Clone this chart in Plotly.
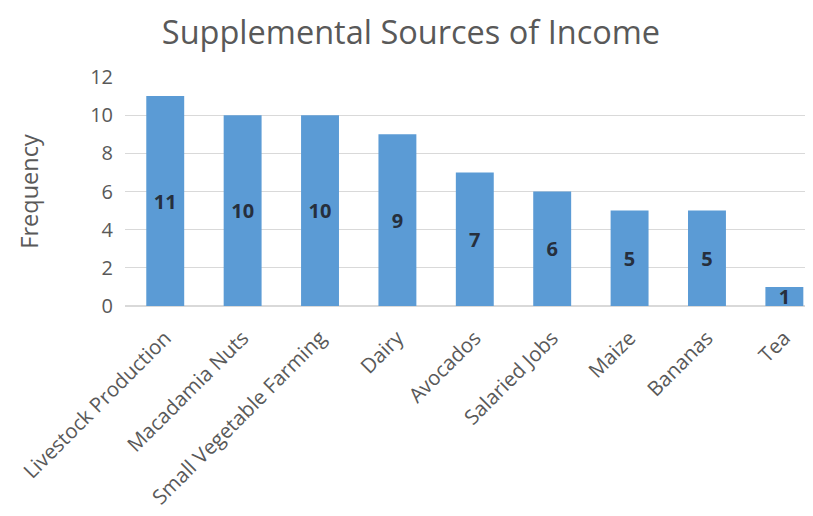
import plotly.graph_objects as go

categories = ["Livestock Production", "Macadamia Nuts", "Small Vegetable Farming", "Dairy",
              "Avocados", "Salaried Jobs", "Maize", "Bananas", "Tea"]
values = [11, 10, 10, 9, 7, 6, 5, 5, 1]
y_ticks = [0, 2, 4, 6, 8, 10, 12]

FONT = "Open Sans"
GREY = "#595959"

fig = go.Figure(go.Bar(
    x=categories, y=values,
    marker=dict(color="#5b9bd5", line=dict(width=0)),
    width=0.49,
    text=[str(v) for v in values],
    textposition="inside",
    insidetextanchor="middle",
    textangle=0,
    constraintext="none",
    textfont=dict(family=FONT, size=20, color="#262f3d", weight="bold"),
))

# page body has an 8px default margin, so the figure is laid out 8px inside the window
fig.update_layout(
    width=805, height=508,
    margin=dict(l=117, r=0, t=69, b=210),
    paper_bgcolor="white", plot_bgcolor="white",
    title=dict(text="Supplemental Sources of Income", x=0.5006, xanchor="center",
               y=0.952, yanchor="middle",
               font=dict(family=FONT, size=32.5, color=GREY)),
    uniformtext=dict(minsize=20, mode="show"),
    showlegend=False,
)
fig.update_xaxes(
    range=[-0.52, 8.37], tickangle=-45,
    tickfont=dict(family=FONT, size=20.5, color=GREY),
    showline=False, ticks="", showgrid=False, automargin=False,
    ticklabelstandoff=15,
)
fig.update_yaxes(
    range=[0, 12], tickvals=y_ticks,
    tickfont=dict(family=FONT, size=20, color=GREY),
    gridcolor="#d9d9d9", gridwidth=1, zeroline=True, zerolinecolor="#d9d9d9",
    ticks="", ticklabelstandoff=11, automargin=False,
    title=dict(text="Frequency", font=dict(family=FONT, size=23.5, color=GREY), standoff=44),
)

fig.write_html("out.html")
